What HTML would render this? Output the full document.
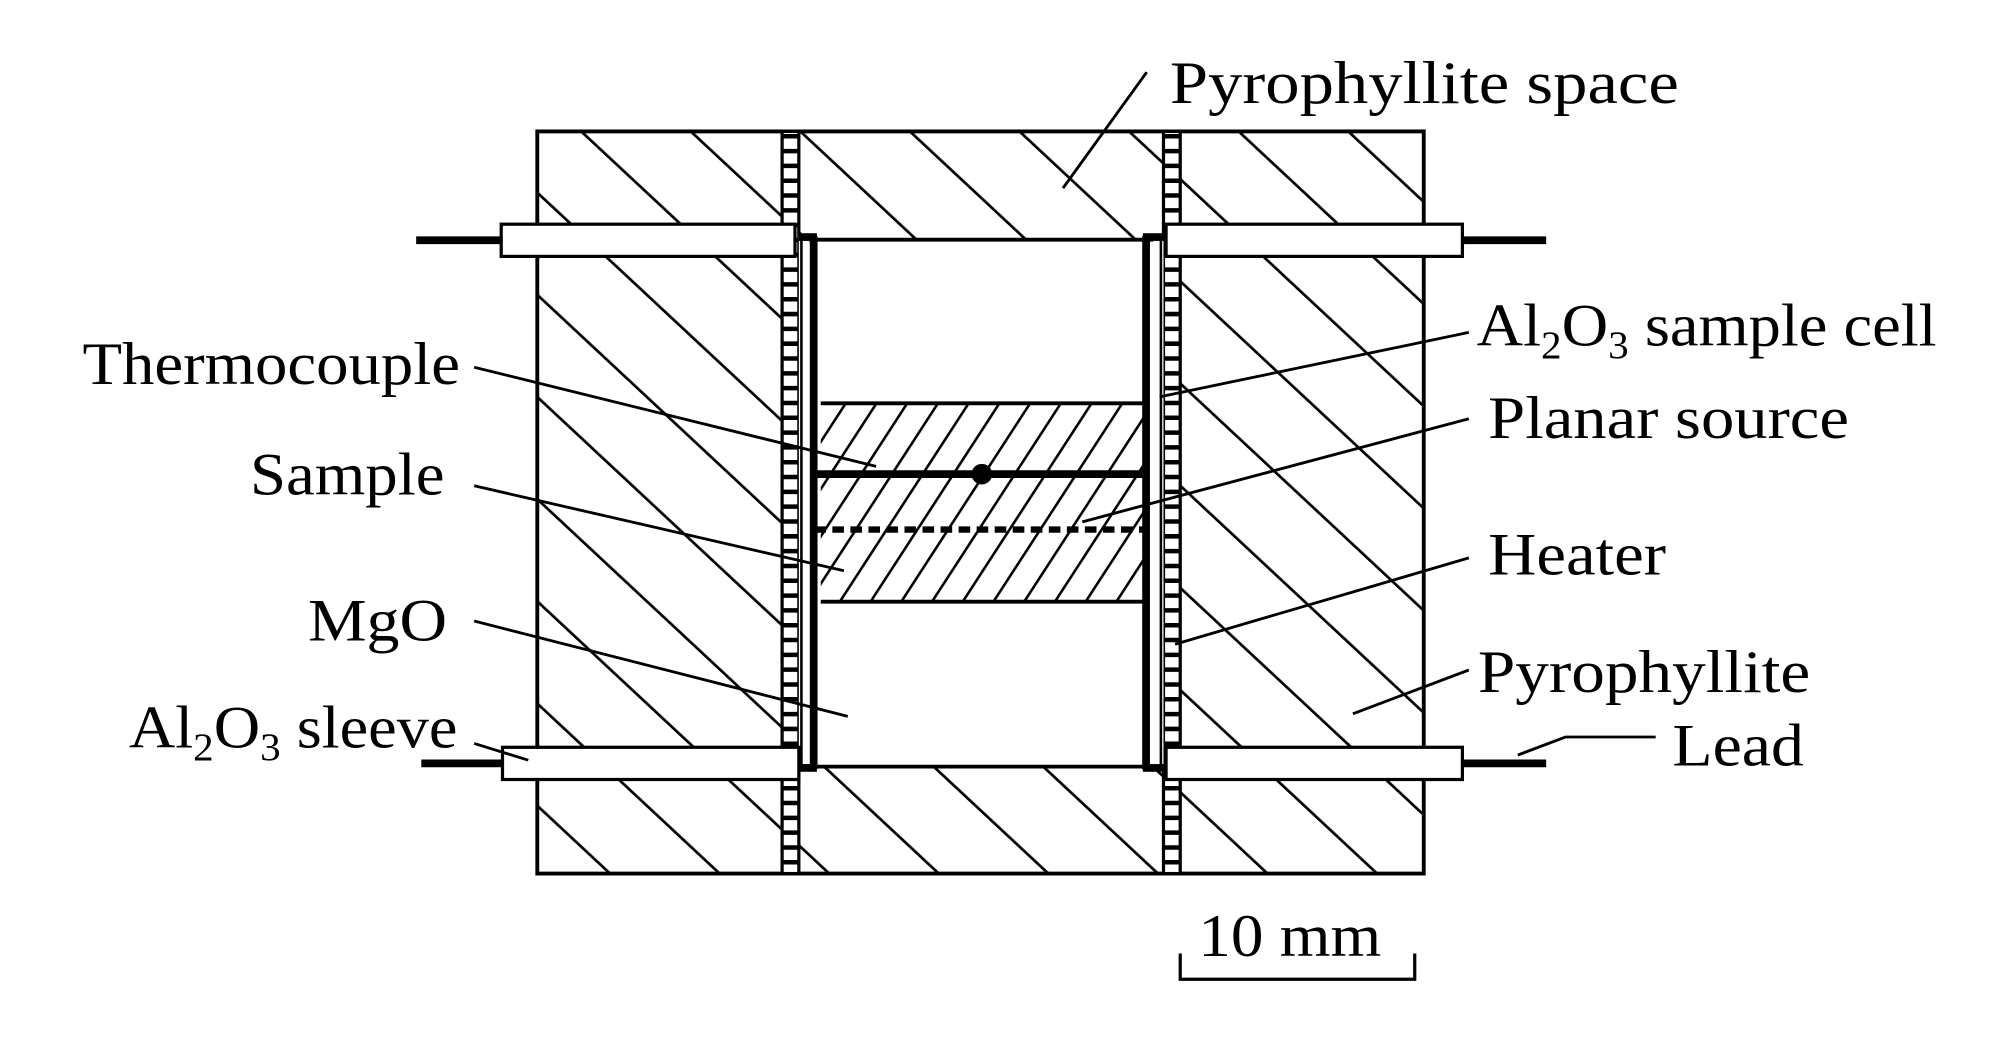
<!DOCTYPE html>
<html><head><meta charset="utf-8"><style>
html,body{margin:0;padding:0;background:#fff;}
svg{display:block;}
text{font-family:"Liberation Serif",serif;font-size:47px;fill:#000;}
</style></head><body>
<svg width="2010" height="1039" viewBox="0 0 1560 806.4" preserveAspectRatio="none" xmlns="http://www.w3.org/2000/svg">
<defs>
<pattern id="big" patternUnits="userSpaceOnUse" width="58" height="20" patternTransform="rotate(-47)">
<line x1="1" y1="0" x2="1" y2="20" stroke="#000" stroke-width="2.2"/>
</pattern>
<pattern id="small" patternUnits="userSpaceOnUse" width="20" height="20" patternTransform="rotate(33)">
<line x1="1" y1="0" x2="1" y2="20" stroke="#000" stroke-width="2"/>
</pattern>
</defs>
<g stroke="#000" fill="none">
<rect x="417" y="102" width="688" height="576" fill="url(#big)" stroke-width="3"/>
<rect x="621" y="186" width="282" height="409" fill="#fff" stroke="none"/>
<rect x="637" y="313" width="251" height="154" fill="url(#small)" stroke="none"/>
<line x1="637" y1="313" x2="888" y2="313" stroke-width="3"/>
<line x1="637" y1="467" x2="888" y2="467" stroke-width="3"/>
<line x1="621" y1="186" x2="903" y2="186" stroke-width="3"/>
<line x1="621" y1="595" x2="903" y2="595" stroke-width="3"/>
<rect x="607" y="102" width="13" height="576" fill="#fff" stroke-width="2.5"/>
<rect x="903" y="102" width="13" height="576" fill="#fff" stroke-width="2.5"/>
<line x1="613.5" y1="104" x2="613.5" y2="676" stroke-width="11" stroke-dasharray="3.5 8"/>
<line x1="909.5" y1="104" x2="909.5" y2="676" stroke-width="11" stroke-dasharray="3.5 8"/>
<rect x="620" y="183" width="8" height="414" fill="#fff" stroke="none"/>
<rect x="895" y="183" width="8" height="414" fill="#fff" stroke="none"/>
<line x1="622" y1="183" x2="622" y2="597" stroke-width="2"/>
<line x1="631.5" y1="183" x2="631.5" y2="597" stroke-width="6"/>
<line x1="889.5" y1="183" x2="889.5" y2="597" stroke-width="6"/>
<line x1="901" y1="183" x2="901" y2="597" stroke-width="2"/>
<rect x="620" y="181" width="14" height="6" fill="#000" stroke="none"/>
<rect x="887" y="181" width="16" height="6" fill="#000" stroke="none"/>
<rect x="620" y="593" width="14" height="6" fill="#000" stroke="none"/>
<rect x="887" y="593" width="16" height="6" fill="#000" stroke="none"/>
<line x1="631" y1="368" x2="890" y2="368" stroke-width="6"/>
<circle cx="762" cy="368" r="8" fill="#000" stroke="none"/>
<line x1="632" y1="411" x2="890" y2="411" stroke-width="5" stroke-dasharray="9 5"/>
<rect x="389" y="174" width="228" height="25" fill="#fff" stroke-width="2.5"/>
<rect x="905" y="174" width="230" height="25" fill="#fff" stroke-width="2.5"/>
<rect x="390" y="580" width="230" height="25" fill="#fff" stroke-width="2.5"/>
<rect x="905" y="580" width="230" height="25" fill="#fff" stroke-width="2.5"/>
<line x1="323" y1="186.5" x2="389" y2="186.5" stroke-width="6"/>
<line x1="1135" y1="186.5" x2="1200" y2="186.5" stroke-width="6"/>
<line x1="327" y1="592.5" x2="390" y2="592.5" stroke-width="6"/>
<line x1="1135" y1="592.5" x2="1200" y2="592.5" stroke-width="6"/>
<g stroke-width="2.2">
<line x1="890" y1="56" x2="825" y2="146"/>
<line x1="1140" y1="258" x2="900" y2="308"/>
<line x1="368" y1="285" x2="680" y2="362"/>
<line x1="1140" y1="325" x2="840" y2="405"/>
<line x1="368" y1="377" x2="655" y2="443"/>
<line x1="1140" y1="433" x2="912" y2="500"/>
<line x1="368" y1="482" x2="658" y2="556"/>
<line x1="1140" y1="520" x2="1050" y2="554"/>
<line x1="368" y1="577" x2="410" y2="590"/>
<polyline points="1285,572 1215,572 1178,586"/>
</g>
<polyline points="916,740 916,760 1098,760 1098,740" stroke-width="2.5"/>
</g>
<text x="908" y="80" textLength="395" lengthAdjust="spacingAndGlyphs">Pyrophyllite space</text>
<text x="1146" y="268" textLength="357" lengthAdjust="spacingAndGlyphs">Al<tspan font-size="30" dy="10">2</tspan><tspan dy="-10">O</tspan><tspan font-size="30" dy="10">3</tspan><tspan dy="-10"> sample cell</tspan></text>
<text x="64" y="298" textLength="293" lengthAdjust="spacingAndGlyphs">Thermocouple</text>
<text x="1155" y="340" textLength="280" lengthAdjust="spacingAndGlyphs">Planar source</text>
<text x="194" y="384" textLength="151" lengthAdjust="spacingAndGlyphs">Sample</text>
<text x="1155" y="446" textLength="138" lengthAdjust="spacingAndGlyphs">Heater</text>
<text x="239" y="497" textLength="108" lengthAdjust="spacingAndGlyphs">MgO</text>
<text x="1147" y="537" textLength="258" lengthAdjust="spacingAndGlyphs">Pyrophyllite</text>
<text x="100" y="580" textLength="255" lengthAdjust="spacingAndGlyphs">Al<tspan font-size="30" dy="10">2</tspan><tspan dy="-10">O</tspan><tspan font-size="30" dy="10">3</tspan><tspan dy="-10"> sleeve</tspan></text>
<text x="1298" y="594" textLength="102" lengthAdjust="spacingAndGlyphs">Lead</text>
<text x="930" y="742" textLength="142" lengthAdjust="spacingAndGlyphs">10 mm</text>
</svg>
</body></html>
